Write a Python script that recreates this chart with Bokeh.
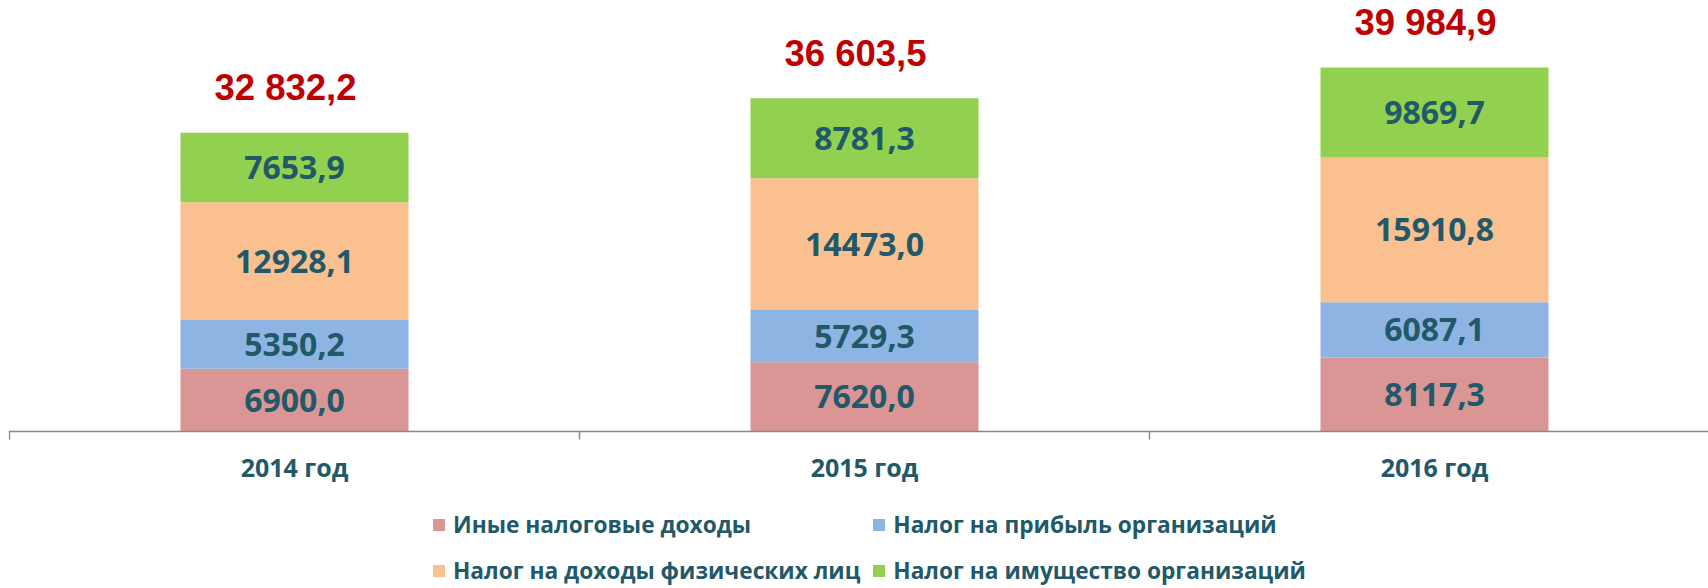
import numpy as np
from bokeh.plotting import figure
from bokeh.models import (ColumnDataSource, Range1d, FixedTicker, Legend, LegendItem,
                          LinearAxis)
from bokeh.core.properties import value
from bokeh.embed import file_html
from bokeh.resources import INLINE

# ---- data ----
categories = ["2014 год", "2015 год", "2016 год"]
series_names = [
    "Иные налоговые доходы",
    "Налог на прибыль организаций",
    "Налог на доходы физических лиц",
    "Налог на имущество организаций",
]
other_income = [6900.0, 7620.0, 8117.3]
profit_tax = [5350.2, 5729.3, 6087.1]
personal_income_tax = [12928.1, 14473.0, 15910.8]
property_tax = [7653.9, 8781.3, 9869.7]
totals = [32832.2, 36603.5, 39984.9]

# ---- styles ----
colors = ["#D99694", "#8EB4E3", "#FAC090", "#92D050"]
teal = "#215968"
red = "#C00000"
axis_gray = "#898989"

series = [other_income, profit_tax, personal_income_tax, property_tax]
keys = ["s0", "s1", "s2", "s3"]
xpos = np.arange(len(categories)) + 0.5

data = {"x": xpos}
for k, s in zip(keys, series):
    data[k] = s
source = ColumnDataSource(data)

# ---- geometry of the scales ----
W, H = 1708, 588
LEFT = 8
PX_PER_CAT = 570.0
FRAME_W = W - LEFT
x_start = -1.0 / PX_PER_CAT
AXIS_PX = 431                 # page row of the value 0
UNITS_PER_PX = 1 / 0.009102
y_start = -(H - AXIS_PX) * UNITS_PER_PX
y_end = AXIS_PX * UNITS_PER_PX

p = figure(
    width=W, height=H,
    output_backend="svg", toolbar_location=None,
    x_range=Range1d(x_start, x_start + FRAME_W / PX_PER_CAT),
    y_range=Range1d(y_start, y_end),
    x_axis_location=None, y_axis_location=None,
)
p.min_border_left = LEFT
p.min_border_right = 0
p.min_border_top = 0
p.min_border_bottom = 0
p.outline_line_color = None
p.xgrid.visible = False
p.ygrid.visible = False

renderers = p.vbar_stack(keys, x="x", width=0.4, source=source,
                         fill_color=colors, line_color=None)

# segment labels
lx, ly, lt = [], [], []
bottoms = np.zeros(len(categories))
for s in series:
    vals = np.array(s)
    mids = bottoms + vals / 2
    for xi, yi, v in zip(xpos, mids, vals):
        lx.append(xi)
        ly.append(yi)
        lt.append(f"{v:.1f}".replace(".", ","))
    bottoms = bottoms + vals
lab_src = ColumnDataSource(dict(x=lx, y=ly, text=lt))
p.text(x="x", y="y", text="text", source=lab_src,
       text_align="center", text_baseline="middle",
       text_font=value("Open Sans"), text_font_style="bold",
       text_font_size="32px", text_color=teal)

# totals
tot_src = ColumnDataSource(dict(
    x=xpos, y=totals,
    text=[f"{v:,.1f}".replace(",", " ").replace(".", ",") for v in totals]))
p.text(x="x", y="y", text="text", source=tot_src,
       text_align="center", text_baseline="middle",
       x_offset=-9, y_offset=-45,
       text_font=value("Liberation Sans"), text_font_style="bold",
       text_font_size="36.5px", text_color=red)

# x axis, drawn at value 0
ax = LinearAxis(fixed_location=0)
ax.ticker = FixedTicker(ticks=list(xpos), minor_ticks=list(range(len(categories) + 1)))
ax.major_label_overrides = {float(xi): c for xi, c in zip(xpos, categories)}
ax.major_tick_line_color = None
ax.major_tick_out = 0
ax.major_tick_in = 0
ax.minor_tick_line_color = axis_gray
ax.minor_tick_line_width = 1.5
ax.minor_tick_out = 8
ax.minor_tick_in = 0
ax.axis_line_color = axis_gray
ax.axis_line_width = 1.5
ax.major_label_text_font = "Open Sans"
ax.major_label_text_font_style = "bold"
ax.major_label_text_font_size = "25px"
ax.major_label_text_color = teal
ax.major_label_standoff = 10
p.add_layout(ax, "below")

# legend below the axis
items = [LegendItem(label=n, renderers=[r]) for n, r in zip(series_names, renderers)]
legend = Legend(
    items=items, orientation="horizontal", ncols=2,
    location=(423, 0),
    glyph_width=15, glyph_height=15, label_standoff=7, spacing=11,
    label_height=35,
    padding=0, margin=0,
    border_line_color=None, background_fill_alpha=0,
    label_text_font="Open Sans", label_text_font_style="bold",
    label_text_font_size="22.7px", label_text_color=teal,
)
p.add_layout(legend)

open("out.html", "w").write(file_html(p, INLINE))
